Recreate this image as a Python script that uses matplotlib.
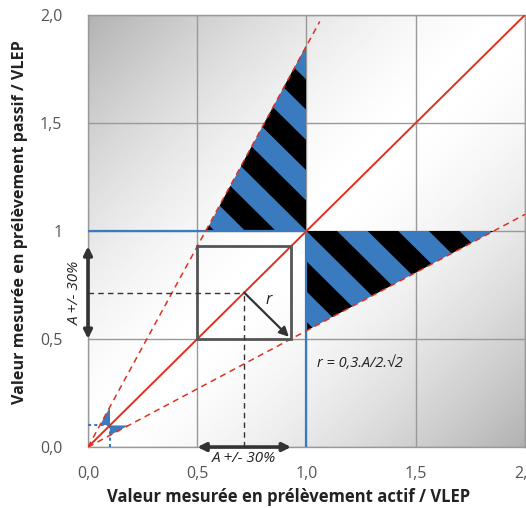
import numpy as np
import matplotlib
matplotlib.use("Agg")
from matplotlib import pyplot as plt
from matplotlib.patches import Polygon, Rectangle

plt.rcParams['font.family'] = ['Open Sans', 'DejaVu Sans']

# axes / ticks
x_ticks = [0.0, 0.5, 1.0, 1.5, 2.0]
x_tick_labels = ['0,0', '0,5', '1,0', '1,5', '2,0']
y_ticks = [0.0, 0.5, 1.0, 1.5, 2.0]
y_tick_labels = ['0,0', '0,5', '1', '1,5', '2,0']

# tolerance and reference values
tol = 0.3            # +/- 30 %
vlep = 1.0           # limit value
small = 0.1          # small-value example
A = 0.715            # example measured value
slope_lo = (1 - tol) / (1 + tol)
slope_hi = (1 + tol) / (1 - tol)

BLUE = '#3a7bbf'
RED = '#e0301e'
DARK = '#333333'

fig = plt.figure(figsize=(5.26, 5.08), dpi=100)
ax = fig.add_axes([0.1673, 0.120, 0.8307, 0.8505])
ax.set_xlim(0, 2)
ax.set_ylim(0, 2)

# grey background, light along the diagonal
g = np.linspace(0, 2, 400)
gx, gy = np.meshgrid(g, g)
shade = 1 - 0.1 * np.abs(gy - gx) ** 1.6
ax.imshow(shade, extent=[0, 2, 0, 2], origin='lower', cmap='gray',
          vmin=0, vmax=1, aspect='auto', zorder=0, interpolation='bilinear')

ax.set_xticks(x_ticks)
ax.set_xticklabels(x_tick_labels)
ax.set_yticks(y_ticks)
ax.set_yticklabels(y_tick_labels)
ax.tick_params(length=0, colors='#555555', labelsize=11.5)
ax.tick_params(axis='x', pad=14)
ax.tick_params(axis='y', pad=18.5)
ax.grid(True, color='#999999', lw=1, zorder=1)
ax.set_axisbelow(True)
for s in ax.spines.values():
    s.set_color('#999999')
    s.set_linewidth(1)


def striped(verts, period=0.28, c0=2.0):
    tri = Polygon(verts, closed=True, facecolor=BLUE, edgecolor='none', zorder=2)
    ax.add_patch(tri)
    for k in range(-20, 20):
        a = c0 + k * period
        b = a + period / 2
        band = Polygon([(a + 5, -5), (a - 5, 5), (b - 5, 5), (b + 5, -5)],
                       closed=True, facecolor='black', edgecolor='none', zorder=2.1)
        ax.add_patch(band)
        band.set_clip_path(tri)


# zones outside tolerance around the VLEP
striped([(vlep / slope_hi, vlep), (vlep, vlep), (vlep, vlep * slope_hi)])
striped([(vlep, vlep), (vlep / slope_lo, vlep), (vlep, vlep * slope_lo)])

# same zones around the small value
ax.add_patch(Polygon([(small / slope_hi, small), (small, small), (small, small * slope_hi)],
                     closed=True, facecolor=BLUE, edgecolor='none', zorder=2))
ax.add_patch(Polygon([(small, small), (small / slope_lo, small), (small, small * slope_lo)],
                     closed=True, facecolor=BLUE, edgecolor='none', zorder=2))
ax.plot([0, small], [small, small], ls=(0, (1.5, 1.5)), color=BLUE, lw=1.5, zorder=3)
ax.plot([small, small], [0, small], ls=(0, (1.5, 1.5)), color=BLUE, lw=1.5, zorder=3)

# VLEP lines
ax.plot([0, vlep], [vlep, vlep], color=BLUE, lw=1.6, zorder=3)
ax.plot([vlep, vlep], [0, vlep], color=BLUE, lw=1.6, zorder=3)

# diagonal and tolerance lines
ax.plot([0, 2], [0, 2], color=RED, lw=1.4, zorder=4)
ax.plot([0, 1.97 / slope_hi], [0, 1.97], color=RED, lw=1.1, ls=(0, (4, 3)), zorder=4)
ax.plot([0, 2], [0, 2 * slope_lo], color=RED, lw=1.1, ls=(0, (4, 3)), zorder=4)

# example box A +/- 30 %
lo, hi = A * (1 - tol), A * (1 + tol)
ax.add_patch(Rectangle((lo, lo), hi - lo, hi - lo, fill=False,
                       edgecolor='#555555', lw=2, zorder=5))
ax.plot([0, A], [A, A], color=DARK, lw=1, ls=(0, (4, 3)), zorder=5)
ax.plot([A, A], [0, A], color=DARK, lw=1, ls=(0, (4, 3)), zorder=5)
ax.annotate('', xy=(hi - 0.01, lo + 0.01), xytext=(A, A),
            arrowprops=dict(arrowstyle='-|>', color=DARK, lw=1.6,
                            mutation_scale=14, shrinkA=0, shrinkB=0), zorder=6)
ax.text(0.825, 0.68, 'r', style='italic', fontsize=11.5, color='#222222',
        ha='center', va='center', zorder=6)

# double arrows on the axes
ax.annotate('', xy=(0, lo), xytext=(0, hi), annotation_clip=False,
            arrowprops=dict(arrowstyle='<|-|>', color=DARK, lw=2.6,
                            mutation_scale=12, shrinkA=0, shrinkB=0), zorder=7)
ax.annotate('', xy=(lo, 0), xytext=(hi, 0), annotation_clip=False,
            arrowprops=dict(arrowstyle='<|-|>', color=DARK, lw=2.6,
                            mutation_scale=12, shrinkA=0, shrinkB=0), zorder=7)
ax.text(-0.06, A, 'A +/- 30%', style='italic', fontsize=11, color='#222222',
        rotation=90, ha='center', va='center', clip_on=False)
ax.text(A, -0.055, 'A +/- 30%', style='italic', fontsize=11, color='#222222',
        ha='center', va='center', clip_on=False)

ax.text(1.05, 0.385, 'r = 0,3.A/2.√2', style='italic', fontsize=10.5,
        color='#222222', va='center', zorder=6)

ax.set_xlabel('Valeur mesurée en prélèvement actif / VLEP', fontsize=12,
              fontweight='bold', color='#222222')
ax.set_ylabel('Valeur mesurée en prélèvement passif / VLEP', fontsize=11.6,
              fontweight='bold', color='#222222')
ax.xaxis.set_label_coords(0.458, -0.095)
ax.xaxis.label.set_va('top')
ax.yaxis.set_label_coords(-0.137, 0.52)

fig.savefig('out.png', dpi=100)
